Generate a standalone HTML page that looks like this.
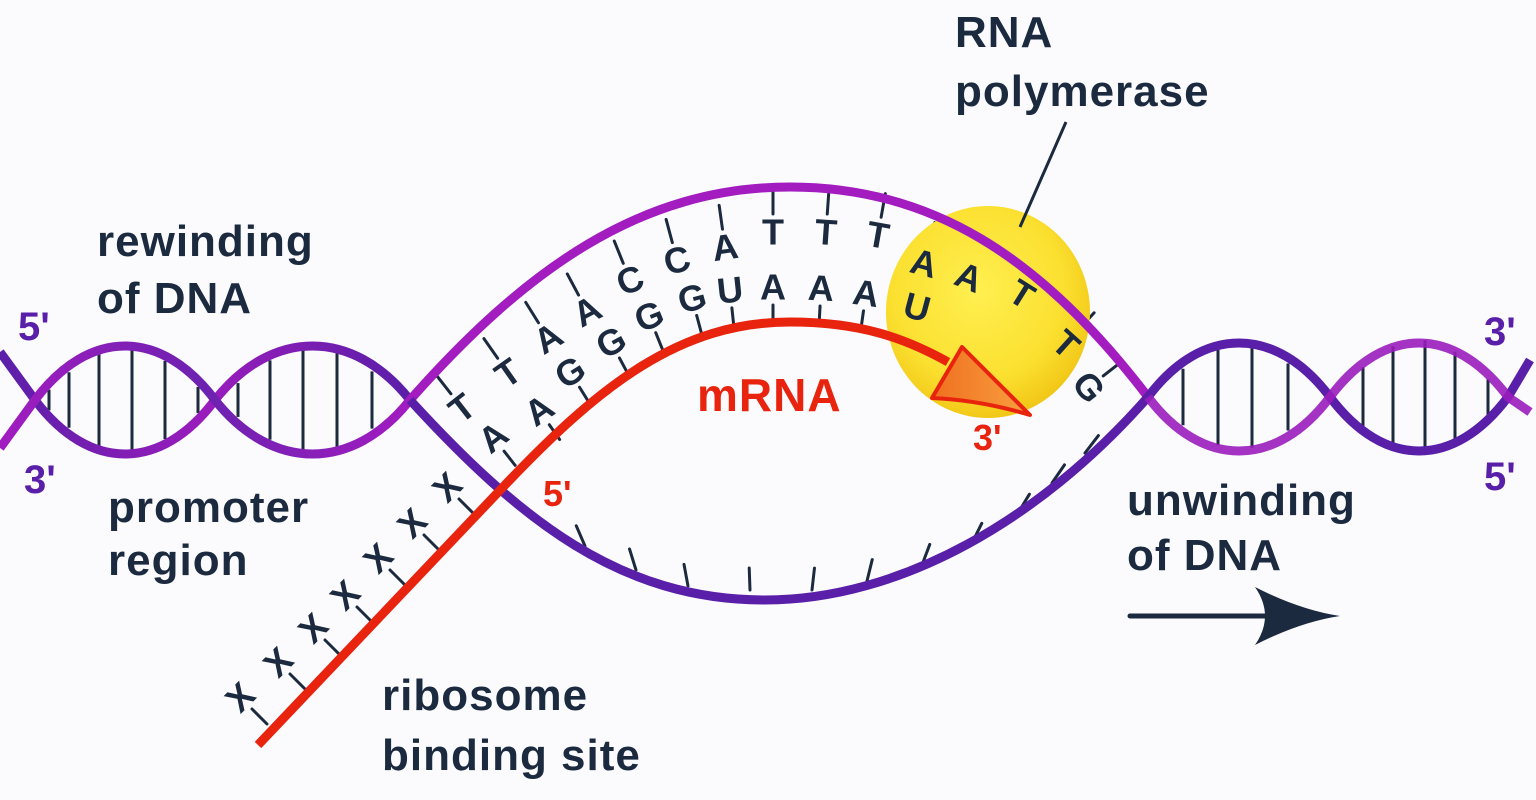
<!DOCTYPE html>
<html><head><meta charset="utf-8"><style>
html,body{margin:0;padding:0;background:#fbfbfd;}
svg{display:block}
.lb{font-family:"Liberation Sans",sans-serif;font-weight:bold;fill:#1b2a3f;font-size:44px;letter-spacing:1px}
.nt{font-family:"Liberation Sans",sans-serif;font-weight:bold;fill:#1b2a3f;font-size:36px;text-anchor:middle;dominant-baseline:central}
</style></head><body>
<svg id="s" width="1536" height="800" viewBox="0 0 1536 800" xmlns="http://www.w3.org/2000/svg">
<defs>
<linearGradient id="gm" x1="0" x2="1"><stop offset="0" stop-color="#a21cc0"/><stop offset="0.5" stop-color="#6c22b0"/><stop offset="1" stop-color="#a21cc0"/></linearGradient>
<linearGradient id="gp" x1="0" x2="1"><stop offset="0" stop-color="#5a1fa8"/><stop offset="0.5" stop-color="#9a1cbc"/><stop offset="1" stop-color="#5a1fa8"/></linearGradient>
<radialGradient id="gy" cx="0.45" cy="0.4" r="0.6"><stop offset="0" stop-color="#ffef50"/><stop offset="0.7" stop-color="#fbe030"/><stop offset="1" stop-color="#f2c818"/></radialGradient>
<linearGradient id="ga" x1="0" x2="1"><stop offset="0" stop-color="#f07020"/><stop offset="1" stop-color="#f8a040"/></linearGradient>
</defs>
<g id="rungs" stroke="#1b2a3f" stroke-width="3"></g>
<g id="ticks" stroke="#1b2a3f" stroke-width="3" stroke-linecap="round"></g>
<ellipse cx="988" cy="312" rx="102" ry="106" fill="url(#gy)"/>
<path d="M0,352 L35,400 C89,472 161,472 215,400 C272,328 353,328 410,400" fill="none" stroke="url(#gp)" stroke-width="9"/>
<path d="M0,448 L35,400 C89,328 161,328 215,400 C272,472 353,472 410,400" fill="none" stroke="url(#gm)" stroke-width="9"/>
<path d="M410,400 C525,270 640,187 790,187 C930,187 1040,255 1148,397" fill="none" stroke="#a21cc0" stroke-width="9"/>
<path d="M410,400 C520,520 620,600 765,600 C900,600 1040,520 1148,397" fill="none" stroke="#5a1fa8" stroke-width="9"/>
<path d="M1148,397 C1202,325 1276,325 1330,397 C1384,469 1454,469 1508,397 L1530,360" fill="none" stroke="#5a1fa8" stroke-width="9"/>
<path d="M1148,397 C1202,469 1276,469 1330,397 C1384,325 1454,325 1508,397 L1530,412" fill="none" stroke="#9a1cbc" stroke-width="9" stroke-opacity="0.9"/>
<path d="M258,745 L505,485 C600,385 680,322 790,322 C860,322 905,338 948,362" fill="none" stroke="#e8240f" stroke-width="9"/>
<path d="M962,347 L1030,415 Q980,400 932,398 Z" fill="url(#ga)" stroke="#e8240f" stroke-width="4" stroke-linejoin="round"/>
<line x1="1066" y1="122" x2="1020" y2="227" stroke="#1b2a3f" stroke-width="3"/>
<g class="nt">
<text transform="translate(462,408) rotate(-38)">T</text>
<text transform="translate(493,437) rotate(-38)">A</text>
<text transform="translate(508,373) rotate(-35)">T</text>
<text transform="translate(539,410) rotate(-35)">A</text>
<text transform="translate(548,338) rotate(-32)">A</text>
<text transform="translate(570,372) rotate(-32)">G</text>
<text transform="translate(587,311) rotate(-28)">A</text>
<text transform="translate(611,342) rotate(-28)">G</text>
<text transform="translate(630,280) rotate(-22)">C</text>
<text transform="translate(649,316) rotate(-22)">G</text>
<text transform="translate(677,260) rotate(-15)">C</text>
<text transform="translate(692,298) rotate(-15)">G</text>
<text transform="translate(725,247) rotate(-8)">A</text>
<text transform="translate(730,290) rotate(-6)">U</text>
<text transform="translate(773,232)">T</text>
<text transform="translate(773,287)">A</text>
<text transform="translate(826,232) rotate(4)">T</text>
<text transform="translate(821,288) rotate(3)">A</text>
<text transform="translate(878,235) rotate(10)">T</text>
<text transform="translate(866,293) rotate(8)">A</text>
<text transform="translate(924,263) rotate(15)">A</text>
<text transform="translate(917,307) rotate(15)">U</text>
<text transform="translate(969,277) rotate(22)">A</text>
<text transform="translate(1022,294) rotate(32)">T</text>
<text transform="translate(1066,344) rotate(42)">T</text>
<text transform="translate(1089,387) rotate(52)">G</text>
<text transform="translate(240,697) rotate(-45)">X</text>
<text transform="translate(278,662) rotate(-45)">X</text>
<text transform="translate(313,628) rotate(-45)">X</text>
<text transform="translate(345,595) rotate(-45)">X</text>
<text transform="translate(378,558) rotate(-45)">X</text>
<text transform="translate(412,523) rotate(-45)">X</text>
<text transform="translate(447,487) rotate(-45)">X</text>
</g>
<text class="lb" x="955" y="47">RNA</text>
<text class="lb" x="955" y="106">polymerase</text>
<text class="lb" x="97" y="256">rewinding</text>
<text class="lb" x="97" y="313">of DNA</text>
<text class="lb" x="108" y="522">promoter</text>
<text class="lb" x="108" y="575">region</text>
<text class="lb" x="1127" y="515">unwinding</text>
<text class="lb" x="1127" y="570">of DNA</text>
<text class="lb" x="382" y="710">ribosome</text>
<text class="lb" x="382" y="770">binding site</text>
<text class="lb" x="18" y="340" style="fill:#5a1fa8;font-size:40px;letter-spacing:0">5'</text>
<text class="lb" x="24" y="493" style="fill:#5a1fa8;font-size:40px;letter-spacing:0">3'</text>
<text class="lb" x="1484" y="345" style="fill:#5a1fa8;font-size:40px;letter-spacing:0">3'</text>
<text class="lb" x="1484" y="490" style="fill:#5a1fa8;font-size:40px;letter-spacing:0">5'</text>
<text class="lb" x="697" y="411" style="fill:#e8240f;font-size:46px">mRNA</text>
<text class="lb" x="543" y="506" style="fill:#e8240f;font-size:36px;letter-spacing:0">5'</text>
<text class="lb" x="973" y="450" style="fill:#e8240f;font-size:36px;letter-spacing:0">3'</text>
<line x1="1130" y1="616" x2="1275" y2="616" stroke="#1b2a3f" stroke-width="5" stroke-linecap="round"/>
<path d="M1255,587 Q1300,610 1340,616 Q1300,622 1255,645 Q1275,616 1255,587 Z" fill="#1b2a3f"/>
</svg>
<script>
var NS="http://www.w3.org/2000/svg";
function ln(g,x1,y1,x2,y2){var l=document.createElementNS(NS,"line");l.setAttribute("x1",x1);l.setAttribute("y1",y1);l.setAttribute("x2",x2);l.setAttribute("y2",y2);document.getElementById(g).appendChild(l);}
[49,69,99,132,165,198].forEach(function(x){var h=55*Math.abs(Math.sin(Math.PI*(x-35)/180))-3;ln("rungs",x,400-h,x,400+h);});
[238,270,303,337,372].forEach(function(x){var h=55*Math.abs(Math.sin(Math.PI*(x-215)/195))-3;ln("rungs",x,400-h,x,400+h);});
[1183,1218,1252,1288].forEach(function(x){var h=55*Math.abs(Math.sin(Math.PI*(x-1148)/182))-3;ln("rungs",x,397-h,x,397+h);});
[1363,1393,1425,1455,1488].forEach(function(x){var h=60*Math.abs(Math.sin(Math.PI*(x-1330)/178))-3;ln("rungs",x,397-h,x,397+h);});
var outer=[[462,408,-38],[508,373,-35],[548,338,-32],[587,311,-28],[630,280,-22],[677,260,-15],[725,247,-8],[773,232,0],[826,232,4],[878,235,10],[924,263,15],[969,277,22],[1022,294,32],[1066,344,42],[1089,387,52]];
outer.forEach(function(p){var a=p[2]*Math.PI/180,nx=Math.sin(a),ny=-Math.cos(a);ln("ticks",p[0]+nx*18,p[1]+ny*18,p[0]+nx*42,p[1]+ny*42);});
var inner=[[493,437,-38],[539,410,-35],[570,372,-32],[611,342,-28],[649,316,-22],[692,298,-15],[730,290,-6],[773,287,0],[821,288,3],[866,293,8],[917,307,15]];
inner.forEach(function(p){var a=p[2]*Math.PI/180,nx=-Math.sin(a),ny=Math.cos(a);ln("ticks",p[0]+nx*18,p[1]+ny*18,p[0]+nx*36,p[1]+ny*36);});
var xs=[[240,697],[278,662],[313,628],[345,595],[378,558],[412,523],[447,487]];
xs.forEach(function(p){ln("ticks",p[0]+12,p[1]+12,p[0]+27,p[1]+27);});
var lo=[[585,538],[636,562],[688,578],[750,582],[812,582],[867,573],[922,557],[972,535],[1018,505],[1052,475],[1085,445]];
lo.forEach(function(p){var dx=p[0]-765,s=dx/250;var a=Math.atan(s*0.6);var nx=Math.sin(a),ny=-Math.cos(a);ln("ticks",p[0],p[1]+8,p[0]+nx*22,p[1]+8+ny*22);});
</script>
</body></html>
